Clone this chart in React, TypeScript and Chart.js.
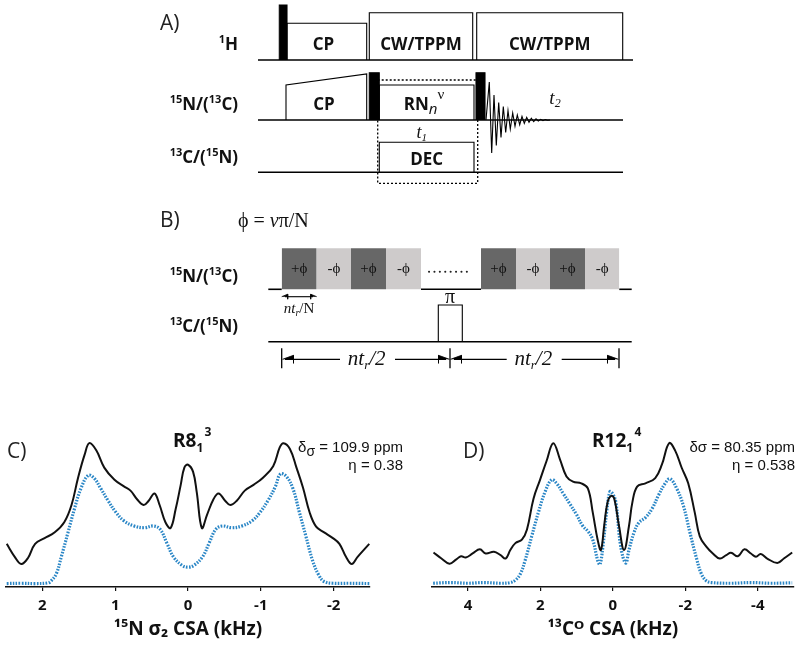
import React, { useEffect, useRef } from "react";
import { Chart, registerables } from "chart.js";
Chart.register(...registerables);

const SANS = '"Open Sans", "DejaVu Sans", sans-serif';
const ARIAL = '"Liberation Sans", Arial, sans-serif';
const SERIF = '"Liberation Serif", "DejaVu Serif", serif';

// ================= Panel C: 15N sigma2 CSA (kHz) =================
const cTicks = [2, 1, 0, -1, -2];
const cExpFreq = [2.49, 2.38, 2.29, 2.2, 2.1, 1.97, 1.83, 1.7, 1.6, 1.51, 1.42, 1.355, 1.26, 1.15, 1.01, 0.88, 0.79, 0.7, 0.61, 0.54, 0.46, 0.39, 0.31, 0.24, 0.17, 0.1, 0.05, 0, -0.07, -0.12, -0.19, -0.26, -0.35, -0.42, -0.51, -0.58, -0.67, -0.78, -0.9, -1.03, -1.17, -1.26, -1.31, -1.4, -1.49, -1.58, -1.67, -1.76, -1.87, -1.99, -2.08, -2.17, -2.25, -2.33, -2.49];
const cExpInt = [0.30, 0.21, 0.16, 0.2, 0.3, 0.34, 0.38, 0.45, 0.57, 0.76, 0.92, 1.0, 0.95, 0.83, 0.745, 0.70, 0.67, 0.61, 0.57, 0.60, 0.65, 0.57, 0.45, 0.41, 0.54, 0.71, 0.83, 0.85, 0.8, 0.66, 0.41, 0.5, 0.61, 0.65, 0.6, 0.57, 0.6, 0.67, 0.71, 0.76, 0.84, 0.97, 1.0, 0.96, 0.83, 0.69, 0.52, 0.42, 0.38, 0.34, 0.3, 0.21, 0.16, 0.21, 0.30];
const cSimFreq = [2.49, 2.29, 2.1, 1.92, 1.88, 1.81, 1.74, 1.65, 1.56, 1.47, 1.37, 1.29, 1.2, 1.1, 0.99, 0.88, 0.74, 0.6, 0.47, 0.38, 0.29, 0.2, 0.08, 0, -0.08, -0.2, -0.29, -0.38, -0.47, -0.6, -0.74, -0.88, -0.99, -1.1, -1.2, -1.27, -1.35, -1.44, -1.53, -1.62, -1.71, -1.8, -1.87, -1.99, -2.21, -2.49];
const cSimInt = [0.024, 0.026, 0.024, 0.029, 0.043, 0.09, 0.21, 0.376, 0.543, 0.686, 0.776, 0.757, 0.686, 0.602, 0.519, 0.46, 0.424, 0.412, 0.424, 0.4, 0.305, 0.21, 0.15, 0.138, 0.15, 0.21, 0.305, 0.4, 0.424, 0.412, 0.424, 0.46, 0.519, 0.602, 0.698, 0.786, 0.769, 0.686, 0.519, 0.352, 0.186, 0.079, 0.038, 0.026, 0.026, 0.024];

// ================= Panel D: 13CO CSA (kHz) =================
const dTicks = [4, 2, 0, -2, -4];
const dExpFreq = [4.95, 4.74, 4.51, 4.33, 4.19, 4.06, 3.87, 3.67, 3.51, 3.28, 3.1, 2.96, 2.83, 2.69, 2.51, 2.37, 2.19, 2.01, 1.83, 1.645, 1.46, 1.28, 1.1, 0.87, 0.69, 0.555, 0.42, 0.33, 0.24, 0.145, 0.045, -0.04, -0.17, -0.31, -0.445, -0.54, -0.67, -0.9, -1.17, -1.355, -1.555, -1.72, -1.9, -2.08, -2.26, -2.4, -2.58, -2.76, -2.95, -3.13, -3.26, -3.45, -3.63, -3.81, -3.95, -4.08, -4.26, -4.54, -4.72, -4.95];
const dExpInt = [0.24, 0.2, 0.162, 0.19, 0.214, 0.205, 0.233, 0.262, 0.233, 0.245, 0.221, 0.198, 0.257, 0.305, 0.329, 0.4, 0.614, 0.745, 0.876, 1.0, 0.888, 0.769, 0.733, 0.721, 0.686, 0.519, 0.329, 0.257, 0.424, 0.59, 0.633, 0.614, 0.424, 0.257, 0.424, 0.59, 0.698, 0.721, 0.757, 0.852, 1.0, 0.948, 0.829, 0.721, 0.519, 0.352, 0.281, 0.233, 0.198, 0.221, 0.238, 0.214, 0.262, 0.233, 0.21, 0.229, 0.198, 0.167, 0.198, 0.24];
const dSimFreq = [4.96, 4.46, 4.01, 3.56, 3.1, 2.83, 2.69, 2.555, 2.42, 2.24, 2.055, 1.87, 1.69, 1.555, 1.37, 1.19, 1.01, 0.83, 0.69, 0.555, 0.42, 0.355, 0.264, 0.173, 0.082, 0.009, -0.082, -0.218, -0.355, -0.445, -0.58, -0.72, -0.9, -1.08, -1.26, -1.445, -1.58, -1.76, -1.945, -2.13, -2.31, -2.445, -2.58, -2.72, -3.26, -3.81, -4.36, -4.95];
const dSimInt = [0.026, 0.031, 0.026, 0.031, 0.026, 0.031, 0.048, 0.09, 0.186, 0.352, 0.519, 0.662, 0.745, 0.721, 0.65, 0.579, 0.507, 0.424, 0.388, 0.329, 0.186, 0.157, 0.305, 0.519, 0.662, 0.65, 0.59, 0.281, 0.167, 0.257, 0.376, 0.448, 0.483, 0.543, 0.638, 0.721, 0.752, 0.686, 0.567, 0.376, 0.198, 0.09, 0.043, 0.031, 0.026, 0.031, 0.026, 0.029];

// ================= Panels A/B: pulse-sequence diagram (diagram units) =================
// lines: [x1, y1, x2, y2, width]
const diagramLines = [
  [258, 60, 633, 60, 1.6], [258, 120, 623, 120, 1.6], [258, 172.3, 623, 172.3, 1.6],
  [268.3, 289.3, 281.7, 289.3, 1.6], [421, 289.3, 481, 289.3, 1.6], [619.3, 289.3, 631.7, 289.3, 1.6],
  [268.3, 341.7, 631.7, 341.7, 1.6],
  [285, 296.7, 313, 296.7, 1.1],
  [281.7, 348.3, 281.7, 368.3, 1.3], [450, 348.3, 450, 368.3, 1.3], [619, 348.3, 619, 368.3, 1.3],
  [285, 359.3, 340, 359.3, 1.3], [395, 359.3, 446, 359.3, 1.3], [454, 359.3, 506.7, 359.3, 1.3], [561.7, 359.3, 615, 359.3, 1.3],
];
// pulse blocks: start, end, top at start, top at end, baseline, fill
const pulseStart = [279.3, 287, 369.3, 476.7, 286, 369.3, 379.3, 476, 379.3, 438.3];
const pulseEnd = [287, 366.7, 472.7, 622.7, 366.7, 379.3, 474, 485, 474, 462.3];
const pulseTop0 = [5, 23.3, 12.7, 12.7, 85, 72.7, 85, 72.7, 142.3, 305];
const pulseTop1 = [5, 23.3, 12.7, 12.7, 74, 72.7, 85, 72.7, 142.3, 305];
const pulseBase = [60, 60, 60, 60, 120, 120, 120, 120, 172.3, 341.7];
const pulseFill = ["#000", "#fff", "#fff", "#fff", "#fff", "#000", "#fff", "#000", "#fff", "#fff"];
// RN phase blocks (panel B)
const phaseEdges = [[281.7, 316.7, 351, 386, 421], [481, 516, 550, 585, 619.3]];
const phaseLabels = ["+ϕ", "-ϕ", "+ϕ", "-ϕ"];
const phaseColors = ["#676767", "#cecbcb", "#676767", "#cecbcb"];
const phaseTop = 248.3;
const phaseBase = 289.3;
// FID (t2)
const fidTime = [486, 489.3, 491.7, 494, 496.3, 498.7, 501, 503.3, 505.7, 508, 510.3, 512.7, 515, 517.3, 519.7, 522, 524.3, 526.7, 529, 531.3, 533.7, 536, 538.3, 540.7, 543, 545.3, 547.7, 550];
const fidAmp = [0, 38, -33, 25, -25.5, 17.5, -17.5, 13.5, -12.5, 9.5, -9, 7, -6.3, 5, -4.7, 3.7, -3.3, 2.7, -2.3, 1.8, -1.6, 1.2, -1.0, 0.7, -0.6, 0.4, -0.3, 0];
const fidBase = 120;
// arrow heads: tip x, tip y, direction, length, half width
const arrowHeads = [
  [281.7, 296.7, -1, 6, 2.5], [316.7, 296.7, 1, 6, 2.5],
  [282.5, 359.3, -1, 11, 4], [449.5, 359.3, 1, 11, 4], [450.5, 359.3, -1, 11, 4], [618.5, 359.3, 1, 11, 4],
];
const dottedBox = [377.7, 477.7, 80, 183.3];
const ellipsis = [429, 472, 271.7];

// ---------- rich text helper ----------
type Seg = { t: string; font: string; dy?: number; color?: string };
function drawRich(ctx: CanvasRenderingContext2D, segs: Seg[], x: number, y: number, align: string) {
  ctx.save();
  ctx.textBaseline = "alphabetic";
  ctx.textAlign = "left";
  let w = 0;
  const ws = segs.map((s) => {
    ctx.font = s.font;
    const m = ctx.measureText(s.t).width;
    w += m;
    return m;
  });
  let cx = align === "center" ? x - w / 2 : align === "right" ? x - w : x;
  segs.forEach((s, i) => {
    ctx.font = s.font;
    ctx.fillStyle = s.color || "#111";
    ctx.fillText(s.t, cx, y + (s.dy || 0));
    cx += ws[i];
  });
  ctx.restore();
}

const big = (t: string): Seg => ({ t, font: `bold 17px ${SANS}` });
const sup = (t: string): Seg => ({ t, font: `bold 11px ${SANS}`, dy: -7 });
const letter = (t: string): Seg => ({ t, font: `21px ${SANS}`, color: "#222" });
const serif = (t: string, size: number, it = false, dy = 0): Seg => ({ t, font: `${it ? "italic " : ""}${size}px ${SERIF}`, dy });

type Label = { x: number; y: number; align: string; segs: Seg[] };
const diagramTexts: Label[] = [
  { x: 160, y: 30, align: "left", segs: [letter("A)")] },
  { x: 238, y: 49.5, align: "right", segs: [sup("1"), big("H")] },
  { x: 238, y: 110, align: "right", segs: [sup("15"), big("N/("), sup("13"), big("C)")] },
  { x: 238, y: 163, align: "right", segs: [sup("13"), big("C/("), sup("15"), big("N)")] },
  { x: 323.5, y: 49.5, align: "center", segs: [big("CP")] },
  { x: 421, y: 49.5, align: "center", segs: [big("CW/TPPM")] },
  { x: 549.7, y: 49.5, align: "center", segs: [big("CW/TPPM")] },
  { x: 324, y: 110, align: "center", segs: [big("CP")] },
  { x: 424, y: 110, align: "center", segs: [big("RN"), { t: "n", font: `italic 15px ${SANS}`, dy: 4 }, { t: "ν", font: `15px ${SERIF}`, dy: -11 }] },
  { x: 426.7, y: 165, align: "center", segs: [big("DEC")] },
  { x: 421.7, y: 138, align: "center", segs: [serif("t", 18, true), serif("1", 11, true, 3)] },
  { x: 555, y: 104, align: "center", segs: [serif("t", 19, true), serif("2", 12, true, 3)] },
  { x: 160, y: 226.5, align: "left", segs: [letter("B)")] },
  { x: 238, y: 227, align: "left", segs: [serif("ϕ = ", 20), serif("v", 20, true), serif("π/N", 20)] },
  { x: 238, y: 281.5, align: "right", segs: [sup("15"), big("N/("), sup("13"), big("C)")] },
  { x: 238, y: 331.5, align: "right", segs: [sup("13"), big("C/("), sup("15"), big("N)")] },
  { x: 299, y: 313, align: "center", segs: [serif("nt", 15, true), serif("r", 10, true, 3), serif("/N", 15)] },
  { x: 450, y: 303, align: "center", segs: [serif("π", 20)] },
  { x: 366.7, y: 365, align: "center", segs: [serif("nt", 21, true), serif("r", 13, true, 4), serif("/2", 21, true)] },
  { x: 533.3, y: 365, align: "center", segs: [serif("nt", 21, true), serif("r", 13, true, 4), serif("/2", 21, true)] },
];

function buildDiagramDatasets() {
  const ds: any[] = [];
  const base = { pointRadius: 0, pointHoverRadius: 0, tension: 0, clip: false, fill: false };
  diagramLines.forEach(([x1, y1, x2, y2, w]) => {
    ds.push({ ...base, data: [{ x: x1, y: y1 }, { x: x2, y: y2 }], borderColor: "#000", borderWidth: w });
  });
  ds.push({
    ...base, data: [{ x: ellipsis[0], y: ellipsis[2] }, { x: ellipsis[1], y: ellipsis[2] }],
    borderColor: "#222", borderWidth: 2, borderDash: [0.1, 5.3], borderCapStyle: "round",
  });
  ds.push({
    ...base,
    data: [
      { x: dottedBox[0], y: dottedBox[2] }, { x: dottedBox[1], y: dottedBox[2] },
      { x: dottedBox[1], y: dottedBox[3] }, { x: dottedBox[0], y: dottedBox[3] }, { x: dottedBox[0], y: dottedBox[2] },
    ],
    borderColor: "#000", borderWidth: 1.3, borderDash: [2, 2],
  });
  ds.push({
    ...base, data: fidTime.map((t, i) => ({ x: t, y: fidBase - fidAmp[i] })),
    borderColor: "#000", borderWidth: 1.1,
  });
  arrowHeads.forEach(([x, y, dir, len, h]) => {
    ds.push({
      ...base,
      data: [{ x, y }, { x: x - dir * len, y: y - h }, { x: x - dir * len, y: y + h }],
      borderColor: "#000", borderWidth: 0.8, backgroundColor: "#000", fill: { value: y },
    });
  });
  pulseStart.forEach((x0, i) => {
    ds.push({
      ...base,
      data: [
        { x: x0, y: pulseBase[i] }, { x: x0, y: pulseTop0[i] },
        { x: pulseEnd[i], y: pulseTop1[i] }, { x: pulseEnd[i], y: pulseBase[i] },
      ],
      borderColor: "#000", borderWidth: 1.1, backgroundColor: pulseFill[i], fill: { value: pulseBase[i] },
    });
  });
  phaseEdges.forEach((edges) => {
    for (let k = 0; k < edges.length - 1; k++) {
      ds.push({
        ...base,
        data: [
          { x: edges[k], y: phaseBase }, { x: edges[k], y: phaseTop },
          { x: edges[k + 1], y: phaseTop }, { x: edges[k + 1], y: phaseBase },
        ],
        borderWidth: 0, borderColor: "rgba(0,0,0,0)", backgroundColor: phaseColors[k], fill: { value: phaseBase },
      });
    }
  });
  return ds;
}

const diagramTextPlugin = {
  id: "diagramText",
  afterDatasetsDraw(chart: any) {
    const { ctx, scales } = chart;
    const xs = scales.x;
    const ys = scales.y;
    phaseEdges.forEach((edges) => {
      for (let k = 0; k < edges.length - 1; k++) {
        const cx = (edges[k] + edges[k + 1]) / 2;
        drawRich(ctx, [serif(phaseLabels[k], 15)], xs.getPixelForValue(cx), ys.getPixelForValue(272.5), "center");
      }
    });
    diagramTexts.forEach((l) => drawRich(ctx, l.segs, xs.getPixelForValue(l.x), ys.getPixelForValue(l.y), l.align));
  },
};

// ---------- spectra ----------
type Note = { x: number; y: number; align: string; segs: Seg[] };
const ar = (t: string, size = 15, dy = 0): Seg => ({ t, font: `${size}px ${ARIAL}`, dy, color: "#111" });
const tb = (t: string, size = 19, dy = 0): Seg => ({ t, font: `bold ${size}px ${SANS}`, dy });

const cNotes: Note[] = [
  { x: 7, y: 58, align: "left", segs: [letter("C)")] },
  { x: 173, y: 47, align: "left", segs: [tb("R8"), tb("1", 12, 5), tb(" ", 5), tb("3", 12, -11)] },
  { x: 403, y: 52, align: "right", segs: [ar("δ"), ar("σ", 14, 4), ar(" = 109.9 ppm")] },
  { x: 403, y: 70, align: "right", segs: [ar("η = 0.38")] },
];
const dNotes: Note[] = [
  { x: 63, y: 58, align: "left", segs: [letter("D)")] },
  { x: 192, y: 47, align: "left", segs: [tb("R12"), tb("1", 12, 5), tb(" ", 5), tb("4", 12, -11)] },
  { x: 395, y: 52, align: "right", segs: [ar("δσ = 80.35 ppm")] },
  { x: 395, y: 70, align: "right", segs: [ar("η = 0.538")] },
];

function spectrumConfig(
  expF: number[], expI: number[], simF: number[], simI: number[],
  range: number, ticks: number[], title: string, padL: number, padR: number, notes: Note[]
): any {
  return {
    type: "line",
    data: {
      datasets: [
        {
          data: expF.map((f, i) => ({ x: f, y: expI[i] })),
          borderColor: "#111", borderWidth: 2, pointRadius: 0, tension: 0.4, fill: false,
        },
        {
          data: simF.map((f, i) => ({ x: f, y: simI[i] })),
          borderColor: "#2a86c6", borderWidth: 3.2, borderDash: [1.6, 1.4], pointRadius: 0,
          tension: 0.4, fill: false,
        },
      ],
    },
    options: {
      responsive: false, animation: false, devicePixelRatio: 1, events: [],
      layout: { padding: { left: padL, right: padR, top: 0, bottom: 7.6 } },
      plugins: { legend: { display: false }, tooltip: { enabled: false } },
      scales: {
        x: {
          type: "linear", min: -range, max: range, reverse: true,
          afterBuildTicks: (s: any) => { s.ticks = ticks.map((v) => ({ value: v })); },
          ticks: { font: { family: SANS, size: 15, weight: "bold" }, color: "#111", padding: 6, maxRotation: 0, autoSkip: false, callback: (v: any) => String(v) },
          grid: { drawOnChartArea: false, drawTicks: true, tickLength: 4, tickColor: "#111", lineWidth: 1.2 },
          border: { display: true, color: "#111", width: 1.5 },
          title: { display: true, text: title, color: "#111", font: { family: SANS, size: 19, weight: "bold" }, padding: { top: -2.4, bottom: 4 } },
        },
        y: { display: false, min: 0, max: 1.3 },
      },
    },
    plugins: [
      {
        id: "notes",
        afterDraw(chart: any) {
          const ctx = chart.ctx;
          notes.forEach((n) => drawRich(ctx, n.segs, n.x, n.y, n.align));
        },
      },
    ],
  };
}

export default function App() {
  const topRef = useRef<HTMLCanvasElement>(null);
  const cRef = useRef<HTMLCanvasElement>(null);
  const dRef = useRef<HTMLCanvasElement>(null);

  useEffect(() => {
    const charts: Chart[] = [];
    charts.push(
      new Chart(topRef.current as HTMLCanvasElement, {
        type: "line",
        data: { datasets: buildDiagramDatasets() },
        options: {
          responsive: false, animation: false, devicePixelRatio: 1, events: [],
          layout: { padding: 0 },
          plugins: { legend: { display: false }, tooltip: { enabled: false } },
          scales: {
            x: { type: "linear", min: 0, max: 800, display: false },
            y: { type: "linear", min: 0, max: 400, reverse: true, display: false },
          },
        },
        plugins: [diagramTextPlugin],
      } as any)
    );
    charts.push(new Chart(cRef.current as HTMLCanvasElement, spectrumConfig(cExpFreq, cExpInt, cSimFreq, cSimInt, 2.5, cTicks, "¹⁵N σ₂ CSA (kHz)", 6, 50, cNotes)));
    charts.push(new Chart(dRef.current as HTMLCanvasElement, spectrumConfig(dExpFreq, dExpInt, dSimFreq, dSimInt, 5, dTicks, "¹³Cᴼ CSA (kHz)", 31.7, 6, dNotes)));
    return () => charts.forEach((c) => c.destroy());
  }, []);

  return (
    <div style={{ position: "absolute", left: 0, top: 0, width: 800, height: 653, background: "#fff", overflow: "hidden" }}>
      <canvas ref={topRef} width={800} height={400} style={{ position: "absolute", left: 0, top: 0, width: 800, height: 400 }} />
      <canvas ref={cRef} width={420} height={253} style={{ position: "absolute", left: 0, top: 400, width: 420, height: 253 }} />
      <canvas ref={dRef} width={400} height={253} style={{ position: "absolute", left: 400, top: 400, width: 400, height: 253 }} />
    </div>
  );
}
